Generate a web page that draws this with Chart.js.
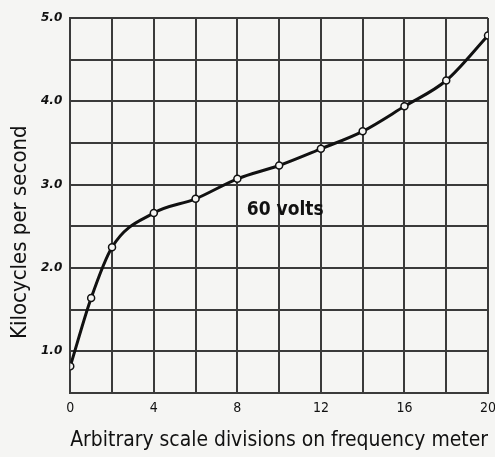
<!DOCTYPE html>
<html>
<head>
<meta charset="utf-8">
<script src="https://cdn.jsdelivr.net/npm/chart.js@4.4.1/dist/chart.umd.min.js"></script>
<style>
  html, body { margin: 0; padding: 0; background: #f5f5f3; }
  #wrap { width: 495px; height: 457px; }
</style>
</head>
<body>
<div id="wrap"><canvas id="myChart" width="495" height="457"></canvas></div>
<script>
// Scale divisions
const divisions = [0, 1, 2, 4, 6, 8, 10, 12, 14, 16, 18, 20];
// Frequency in kilocycles per second at 60 volts
const kilocycles = [0.82, 1.64, 2.25, 2.66, 2.83, 3.07, 3.23, 3.43, 3.64, 3.94, 4.25, 4.79];
const xTickLabels = [0, 4, 8, 12, 16, 20];
const yTickLabels = [1, 2, 3, 4, 5];
const curveLabel = '60 volts';
const yTitle = 'Kilocycles per second';

const points = divisions.map((d, i) => ({ x: d, y: kilocycles[i] }));

// draws the "60 volts" note and the y title (sits a bit low, like the original)
const noteLabel = {
    id: 'noteLabel',
    afterDatasetsDraw(chart) {
        const { ctx, scales } = chart;
        ctx.save();
        ctx.font = 'bold 19px "DejaVu Sans Condensed"';
        ctx.fillStyle = '#111';
        ctx.textBaseline = 'middle';
        ctx.fillText(curveLabel, scales.x.getPixelForValue(8.45), scales.y.getPixelForValue(2.69));

        ctx.translate(20, scales.y.getPixelForValue(2.43));
        ctx.rotate(-Math.PI / 2);
        ctx.textAlign = 'center';
        ctx.font = '22px "DejaVu Sans Condensed"';
        ctx.fillText(yTitle, 0, 0);
        ctx.restore();
    }
};

const ctx = document.getElementById('myChart');

new Chart(ctx, {
    type: 'scatter',
    data: {
        datasets: [{
            label: curveLabel,
            data: points,
            showLine: true,
            borderColor: '#111',
            borderWidth: 3,
            cubicInterpolationMode: 'monotone',
            pointRadius: 3.5,
            pointBackgroundColor: '#f5f5f3',
            pointBorderColor: '#111',
            pointBorderWidth: 1.5
        }]
    },
    options: {
        responsive: false,
        animation: false,
        layout: { padding: { top: 18, right: 0, left: 33, bottom: 0 } },
        scales: {
            x: {
                type: 'linear',
                min: 0,
                max: 20,
                afterFit: s => { s.paddingRight = 7; },
                border: { color: '#3a3a3a', width: 2 },
                grid: { color: '#3a3a3a', lineWidth: 2, drawTicks: false },
                ticks: {
                    stepSize: 2,
                    padding: 7,
                    color: '#111',
                    font: { family: 'DejaVu Sans Condensed', size: 14 },
                    callback: v => xTickLabels.includes(v) ? v : ''
                },
                title: {
                    display: true,
                    text: 'Arbitrary scale divisions on frequency meter',
                    color: '#111',
                    padding: { top: 4, bottom: 4 },
                    font: { family: 'DejaVu Sans Condensed', size: 21 }
                }
            },
            y: {
                min: 0.5,
                max: 5,
                border: { color: '#3a3a3a', width: 2 },
                grid: { color: '#3a3a3a', lineWidth: 2, drawTicks: false },
                ticks: {
                    stepSize: 0.5,
                    padding: 8,
                    color: '#111',
                    font: { family: 'DejaVu Sans', size: 12, weight: 'bold', style: 'italic' },
                    callback: v => yTickLabels.includes(v) ? v.toFixed(1) : ''
                }
            }
        },
        plugins: {
            legend: { display: false },
            tooltip: { enabled: false }
        }
    },
    plugins: [noteLabel]
});
</script>
</body>
</html>
